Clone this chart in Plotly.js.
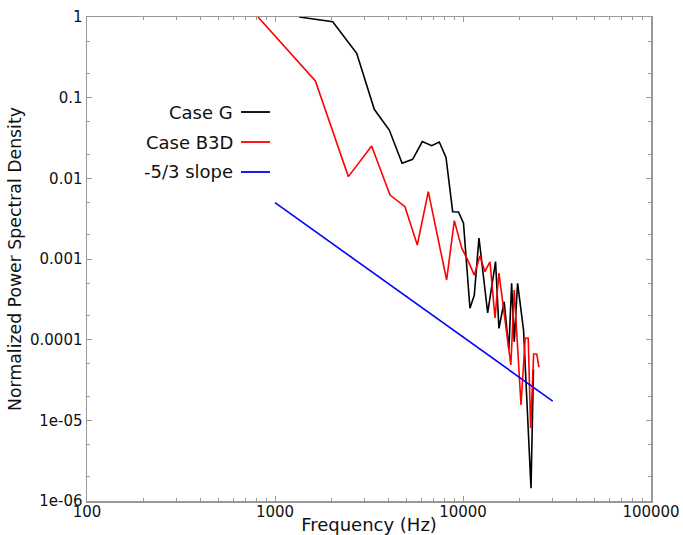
<!DOCTYPE html>
<html>
<head>
<meta charset="utf-8">
<script src="https://cdn.plot.ly/plotly-3.0.1.min.js"></script>
<style>html,body{margin:0;padding:0;background:#fff;}#chart{width:683px;height:535px;}</style>
</head>
<body>
<div id="chart"></div>
<script>
// Case G
const caseGFreq = [1343, 2028, 2720, 3373, 4055, 4742, 5397, 6077, 6813, 7480, 8120, 8812, 9460, 10060, 10890, 11480, 12160, 13530, 14900, 15530, 16560, 17540, 18140, 18730, 19520, 21000, 23000, 23700];
const caseGPsd  = [1.0, 0.875, 0.355, 0.0718, 0.0397, 0.0154, 0.0172, 0.0285, 0.0254, 0.0282, 0.0182, 0.00386, 0.00383, 0.00278, 0.000245, 0.000355, 0.00182, 0.000215, 0.00093, 0.000138, 0.000295, 0.000075, 0.0005, 0.000094, 0.0005, 0.00013, 0.00000144, 0.000043];
// Case B3D
const caseBFreq = [812, 1640, 2456, 3266, 4091, 4913, 5714, 6537, 8184, 8990, 9846, 10590, 11480, 12300, 13070, 13920, 14800, 15530, 17970, 18730, 20350, 21430, 22230, 22900, 23750, 24660, 25360];
const caseBPsd  = [1.0, 0.161, 0.0105, 0.0252, 0.00621, 0.00445, 0.00149, 0.00684, 0.000549, 0.00299, 0.00136, 0.000975, 0.00063, 0.00109, 0.0007, 0.00092, 0.000186, 0.00067, 0.0000485, 0.000413, 0.0000155, 0.000104, 0.000104, 0.000008, 0.0000665, 0.0000665, 0.0000455];
// -5/3 slope reference
const slopeFreq = [1000, 30000];
const slopePsd  = [0.005, 0.0000173];

const xTickVals = [100, 1000, 10000, 100000];
const xTickText = ['100', '1000', '10000', '100000'];
const yTickVals = [1e-6, 1e-5, 1e-4, 1e-3, 1e-2, 1e-1, 1];
const yTickText = ['1e-06', '1e-05', '0.0001', '0.001', '0.01', '0.1', '1'];

const legendNames = ['Case G', 'Case B3D', '-5/3 slope'];
const colors = ['#000000', '#ff0000', '#0000ff'];

const xMinor = [];
for (let e = 2; e < 5; e++) for (let d = 2; d <= 9; d++) xMinor.push(d * Math.pow(10, e));
const yMinor = [];
for (let e = -6; e < 0; e++) { yMinor.push(2 * Math.pow(10, e)); yMinor.push(5 * Math.pow(10, e)); }

const traces = [
  {x: caseGFreq, y: caseGPsd, name: legendNames[0], mode: 'lines', line: {color: colors[0], width: 1.6}},
  {x: caseBFreq, y: caseBPsd, name: legendNames[1], mode: 'lines', line: {color: colors[1], width: 1.6}},
  {x: slopeFreq, y: slopePsd, name: legendNames[2], mode: 'lines', line: {color: colors[2], width: 1.6}}
];

const axisCommon = {
  type: 'log', showgrid: false, zeroline: false, showline: true, mirror: 'ticks',
  linecolor: '#999999', linewidth: 1.5, ticks: 'inside', ticklen: 5, tickwidth: 1, tickcolor: '#999999',
  tickfont: {family: 'DejaVu Sans', size: 15, color: '#111'}, tickmode: 'array'
};

const legendY = [0.8037, 0.7417, 0.6798];
const annotations = legendNames.map((n, i) => ({
  xref: 'paper', yref: 'paper', x: 0.2624, y: legendY[i], xanchor: 'right', yanchor: 'middle',
  text: n, showarrow: false, font: {family: 'DejaVu Sans', size: 18, color: '#111'}
}));
const shapes = legendNames.map((n, i) => ({
  type: 'line', xref: 'paper', yref: 'paper', x0: 0.273, x1: 0.3245, y0: legendY[i], y1: legendY[i],
  line: {color: colors[i], width: 1.8}
}));

const layout = {
  width: 683, height: 535,
  margin: {l: 87, r: 32, t: 17, b: 34},
  paper_bgcolor: '#fff', plot_bgcolor: '#fff',
  showlegend: false,
  font: {family: 'DejaVu Sans', color: '#111'},
  xaxis: Object.assign({}, axisCommon, {
    range: [2, 5], tickvals: xTickVals, ticktext: xTickText, ticklabelstandoff: -4,
    minor: {tickmode: 'array', tickvals: xMinor, ticks: 'inside', ticklen: 3, tickcolor: '#999999', showgrid: false},
    title: {text: 'Frequency (Hz)', font: {family: 'DejaVu Sans', size: 18, color: '#111'}, standoff: 5},
    automargin: false
  }),
  yaxis: Object.assign({}, axisCommon, {
    range: [-6, 0], tickvals: yTickVals, ticktext: yTickText,
    minor: {tickmode: 'array', tickvals: yMinor, ticks: 'inside', ticklen: 3, tickcolor: '#999999', showgrid: false},
    title: {text: 'Normalized Power Spectral Density', font: {family: 'DejaVu Sans', size: 17.3, color: '#111'}, standoff: 4},
    automargin: false
  }),
  annotations: annotations,
  shapes: shapes
};

Plotly.newPlot('chart', traces, layout, {displayModeBar: false, staticPlot: true});
</script>
</body>
</html>
